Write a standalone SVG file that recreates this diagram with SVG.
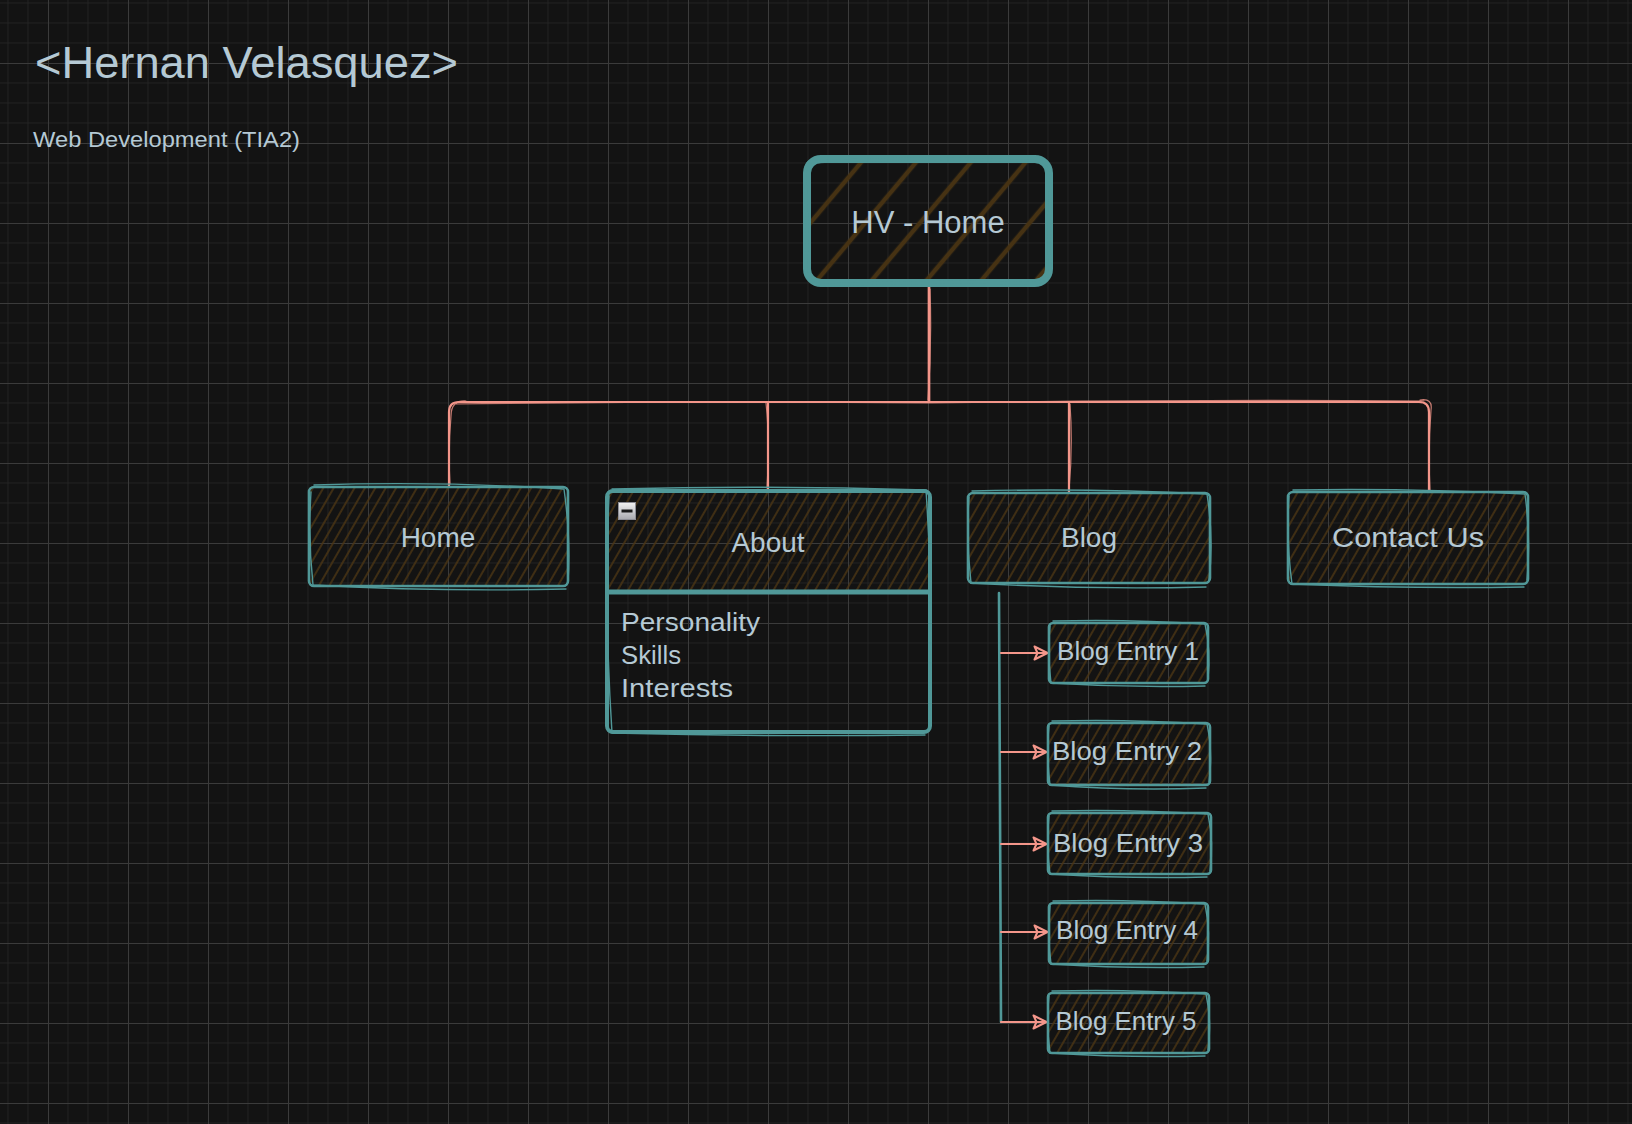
<svg xmlns="http://www.w3.org/2000/svg" width="1632" height="1124" viewBox="0 0 1632 1124">
<style>
.lbl{font-family:"Liberation Sans",Arial,sans-serif;fill:#b5c9d4}
.box{fill:url(#hatch);stroke:#509898;stroke-width:2.6;stroke-linejoin:round}
.sk{fill:none;stroke:#509898;stroke-width:1.4;stroke-linecap:round}
.edge{fill:none;stroke:#f4968a;stroke-width:2.2;stroke-linecap:round;stroke-linejoin:round}
.edge2{fill:none;stroke:#f4968a;stroke-width:1.2;stroke-linecap:round;opacity:.8}
</style>
<defs>
<pattern id="grid" x="48" y="63" width="80" height="80" patternUnits="userSpaceOnUse">
<path d="M20,0V80M40,0V80M60,0V80M0,20H80M0,40H80M0,60H80" stroke="#222222" stroke-width="1"/>
<path d="M0.5,0V80M0,0.5H80" stroke="#3b3b3b" stroke-width="1"/>
</pattern>
<pattern id="hatch" width="9" height="9" patternUnits="userSpaceOnUse" patternTransform="rotate(30)">
<line x1="2" y1="0" x2="2" y2="9" stroke="#4a3413" stroke-width="1.6"/>
</pattern>
<pattern id="hatchBig" width="42" height="42" patternUnits="userSpaceOnUse" patternTransform="rotate(40)">
<line x1="8" y1="0" x2="8" y2="42" stroke="#463213" stroke-width="4.5"/>
</pattern>
<linearGradient id="btn" x1="0" y1="0" x2="0" y2="1">
<stop offset="0" stop-color="#f2f2f2"/><stop offset="1" stop-color="#a8a8ae"/>
</linearGradient>
<marker id="arr" viewBox="0 0 16 16" refX="14" refY="8" markerWidth="16" markerHeight="16" markerUnits="userSpaceOnUse" orient="auto">
<path d="M1.5,1.5 L14.5,8 L1.5,14.5 L4.5,8 Z" fill="none" stroke="#f4968a" stroke-width="2" stroke-linejoin="round"/>
</marker>
</defs>
<rect width="1632" height="1124" fill="#131313"/>
<rect width="1632" height="1124" fill="url(#grid)"/>

<g id="title">
<text class="lbl" x="35" y="78" font-size="45" textLength="423" lengthAdjust="spacingAndGlyphs">&lt;Hernan Velasquez&gt;</text>
<text class="lbl" x="33" y="147" font-size="22" textLength="267" lengthAdjust="spacingAndGlyphs">Web Development (TIA2)</text>
</g>

<g id="connectors">
<path class="edge" d="M929,287V402H459Q449,402 449,412V486"/>
<path class="edge" d="M929,287V402H768V490"/>
<path class="edge" d="M929,287V402H1069V493"/>
<path class="edge" d="M929,287V402H1419Q1429,402 1429,412V492"/>
<path class="edge2" d="M930,289Q932,345 928,400M455,404Q700,401 929,403Q1200,399 1424,401M466,401Q451,400 451,416Q448,450 450,484M766,403Q770,440 767,488M1070,404Q1073,445 1069,491M1420,400Q1433,398 1431,410Q1428,450 1430,490"/>
<path d="M999,593L1001,1022" fill="none" stroke="#509898" stroke-width="2.6" stroke-linecap="round"/>
<path class="edge" d="M1001,653H1047" marker-end="url(#arr)"/>
<path class="edge" d="M1001,752H1046" marker-end="url(#arr)"/>
<path class="edge" d="M1001,844H1046" marker-end="url(#arr)"/>
<path class="edge" d="M1001,932H1047" marker-end="url(#arr)"/>
<path class="edge" d="M1001,1022H1046" marker-end="url(#arr)"/>
</g>

<g id="node-hv-home">
<rect x="807" y="159" width="242" height="124" rx="14" fill="url(#hatchBig)" stroke="#509898" stroke-width="8"/>
<path d="M812,162Q928,156 1044,162Q1052,166 1051,180Q1048,222 1050,270Q1046,284 1030,283Q930,281 822,285Q806,283 806,268Q808,220 805,175Q806,160 812,162Z" fill="none" stroke="#509898" stroke-width="3"/>
<text class="lbl" x="928" y="233" font-size="31" text-anchor="middle">HV - Home</text>
</g>

<g id="node-home">
<rect class="box" x="309" y="487" width="259" height="99" rx="5"/>
<path class="sk" d="M314,485Q440,481 564,489Q571,540 568,582M566,589Q440,592 313,585Q308,540 311,492"/>
<text class="lbl" x="438" y="547" font-size="28" text-anchor="middle">Home</text>
</g>

<g id="node-about">
<rect x="607" y="491" width="323" height="101" fill="url(#hatch)"/>
<rect x="607" y="491" width="323" height="241" rx="6" fill="none" stroke="#509898" stroke-width="4"/>
<path d="M607,592H930" stroke="#509898" stroke-width="5"/>
<path class="sk" d="M612,489Q770,485 926,490Q934,610 929,728M925,735Q770,737 612,733Q604,610 609,496"/>
<rect x="618.5" y="502.5" width="17" height="17" fill="url(#btn)" stroke="#8e8e96" stroke-width="1"/>
<rect x="621.5" y="509.5" width="11" height="3" fill="#1a1a1a"/>
<text class="lbl" x="768" y="552" font-size="28" text-anchor="middle">About</text>
<text class="lbl" x="621" y="631" font-size="25" textLength="139" lengthAdjust="spacingAndGlyphs">Personality</text>
<text class="lbl" x="621" y="664" font-size="25" textLength="60" lengthAdjust="spacingAndGlyphs">Skills</text>
<text class="lbl" x="621" y="697" font-size="25" textLength="112" lengthAdjust="spacingAndGlyphs">Interests</text>
</g>

<g id="node-blog">
<rect class="box" x="968" y="493" width="242" height="90" rx="5"/>
<path class="sk" d="M972,491Q1090,488 1207,494Q1214,540 1209,580M1206,587Q1090,590 971,583Q966,540 969,497"/>
<text class="lbl" x="1089" y="547" font-size="28" text-anchor="middle">Blog</text>
</g>

<g id="node-contact">
<rect class="box" x="1288" y="492" width="240" height="92" rx="5"/>
<path class="sk" d="M1293,490Q1410,488 1525,494Q1531,540 1527,580M1524,587Q1410,589 1292,584Q1286,540 1289,496"/>
<text class="lbl" x="1408" y="547" font-size="28" text-anchor="middle" textLength="152" lengthAdjust="spacingAndGlyphs">Contact Us</text>
</g>

<g id="node-blog-entry-1">
<rect class="box" x="1049" y="623" width="159" height="60" rx="4"/>
<path class="sk" d="M1053,621Q1128,619 1205,624Q1211,650 1208,680M1205,686Q1128,688 1051,683Q1047,650 1050,626"/>
<text class="lbl" x="1128" y="660" font-size="25" text-anchor="middle" textLength="142" lengthAdjust="spacingAndGlyphs">Blog Entry 1</text>
</g>

<g id="node-blog-entry-2">
<rect class="box" x="1048" y="723" width="162" height="62" rx="4"/>
<path class="sk" d="M1052,721Q1128,719 1207,724Q1213,752 1209,782M1206,788Q1128,791 1050,785Q1046,752 1049,726"/>
<text class="lbl" x="1127" y="760" font-size="25" text-anchor="middle" textLength="150" lengthAdjust="spacingAndGlyphs">Blog Entry 2</text>
</g>

<g id="node-blog-entry-3">
<rect class="box" x="1048" y="813" width="163" height="61" rx="4"/>
<path class="sk" d="M1052,811Q1128,809 1208,814Q1214,843 1210,871M1207,877Q1128,879 1050,874Q1046,843 1049,816"/>
<text class="lbl" x="1128" y="852" font-size="25" text-anchor="middle" textLength="150" lengthAdjust="spacingAndGlyphs">Blog Entry 3</text>
</g>

<g id="node-blog-entry-4">
<rect class="box" x="1049" y="903" width="159" height="61" rx="4"/>
<path class="sk" d="M1053,901Q1128,899 1205,904Q1211,933 1207,961M1204,967Q1128,969 1051,964Q1047,933 1050,906"/>
<text class="lbl" x="1127" y="939" font-size="25" text-anchor="middle" textLength="142" lengthAdjust="spacingAndGlyphs">Blog Entry 4</text>
</g>

<g id="node-blog-entry-5">
<rect class="box" x="1048" y="993" width="161" height="60" rx="4"/>
<path class="sk" d="M1052,991Q1128,989 1206,994Q1212,1022 1208,1050M1205,1056Q1128,1058 1050,1053Q1046,1022 1049,996"/>
<text class="lbl" x="1126" y="1030" font-size="25" text-anchor="middle" textLength="141" lengthAdjust="spacingAndGlyphs">Blog Entry 5</text>
</g>
</svg>
